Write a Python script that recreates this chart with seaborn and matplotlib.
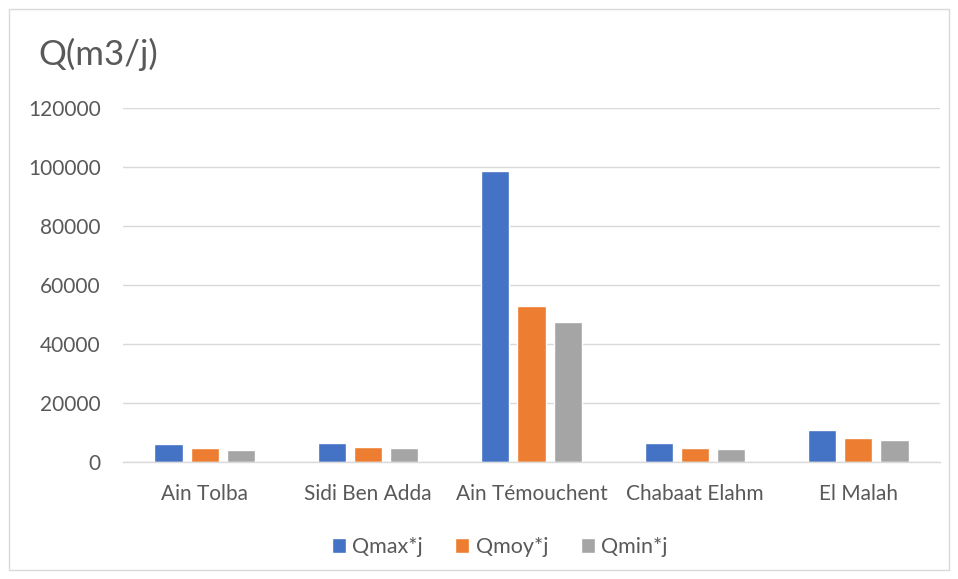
import matplotlib
matplotlib.use("Agg")
import matplotlib.pyplot as plt
from matplotlib.patches import Rectangle
import seaborn as sns
import pandas as pd

# Daily flow per commune (m3/j)
categories = ["Ain Tolba", "Sidi Ben Adda", "Ain Témouchent", "Chabaat Elahm", "El Malah"]
series_names = ["Qmax*j", "Qmoy*j", "Qmin*j"]
q_max = [6150, 6600, 98700, 6400, 10700]
q_moy = [4700, 5100, 52900, 4900, 8100]
q_min = [4100, 4600, 47500, 4350, 7300]
y_ticks = [0, 20000, 40000, 60000, 80000, 100000, 120000]

colors = ["#4472C4", "#ED7D31", "#A5A5A5"]

df = pd.DataFrame({
    "Commune": categories * 3,
    "Serie": [series_names[0]] * 5 + [series_names[1]] * 5 + [series_names[2]] * 5,
    "Q": q_max + q_moy + q_min,
})

sns.set_theme(style="white")
plt.rcParams["font.family"] = ["Lato", "DejaVu Sans"]

fig = plt.figure(figsize=(9.58, 5.79), dpi=100)
ax = fig.add_axes([123 / 958, 1 - 462 / 579, 817 / 958, 354 / 579])

sns.barplot(data=df, x="Commune", y="Q", hue="Serie", palette=colors,
            width=0.665, gap=0.22, ax=ax, legend=True, saturation=1)

ax.set_ylim(0, 120000)
ax.set_yticks(y_ticks)
ax.set_yticklabels([str(v) for v in y_ticks], color="#595959", fontsize=15)
ax.set_xlim(-0.5, 4.5)
ax.tick_params(axis="x", colors="#595959", labelsize=15, length=0, pad=16)
ax.tick_params(axis="y", length=0, pad=16)
ax.set_xlabel("")
ax.set_ylabel("")
ax.grid(axis="y", color="#D9D9D9", linewidth=1)
ax.set_axisbelow(True)
for s in ["top", "right", "left"]:
    ax.spines[s].set_visible(False)
ax.spines["bottom"].set_color("#D9D9D9")
ax.spines["bottom"].set_linewidth(1)

handles, labels = ax.get_legend_handles_labels()
ax.legend(handles, labels, loc="center", bbox_to_anchor=(0.461, -0.24),
          ncol=3, frameon=False, fontsize=15.5, labelcolor="#595959",
          handlelength=0.65, handleheight=0.65, handletextpad=0.3,
          columnspacing=1.5)

fig.text(38 / 958, 1 - 54 / 579, "Q(m3/j)", fontsize=25, color="#595959",
         ha="left", va="center")

fig.patches.append(Rectangle((9 / 958, 9 / 579), 940 / 958, 561 / 579,
                             transform=fig.transFigure, fill=False,
                             edgecolor="#D9D9D9", linewidth=1))

fig.savefig("out.png", dpi=100)
